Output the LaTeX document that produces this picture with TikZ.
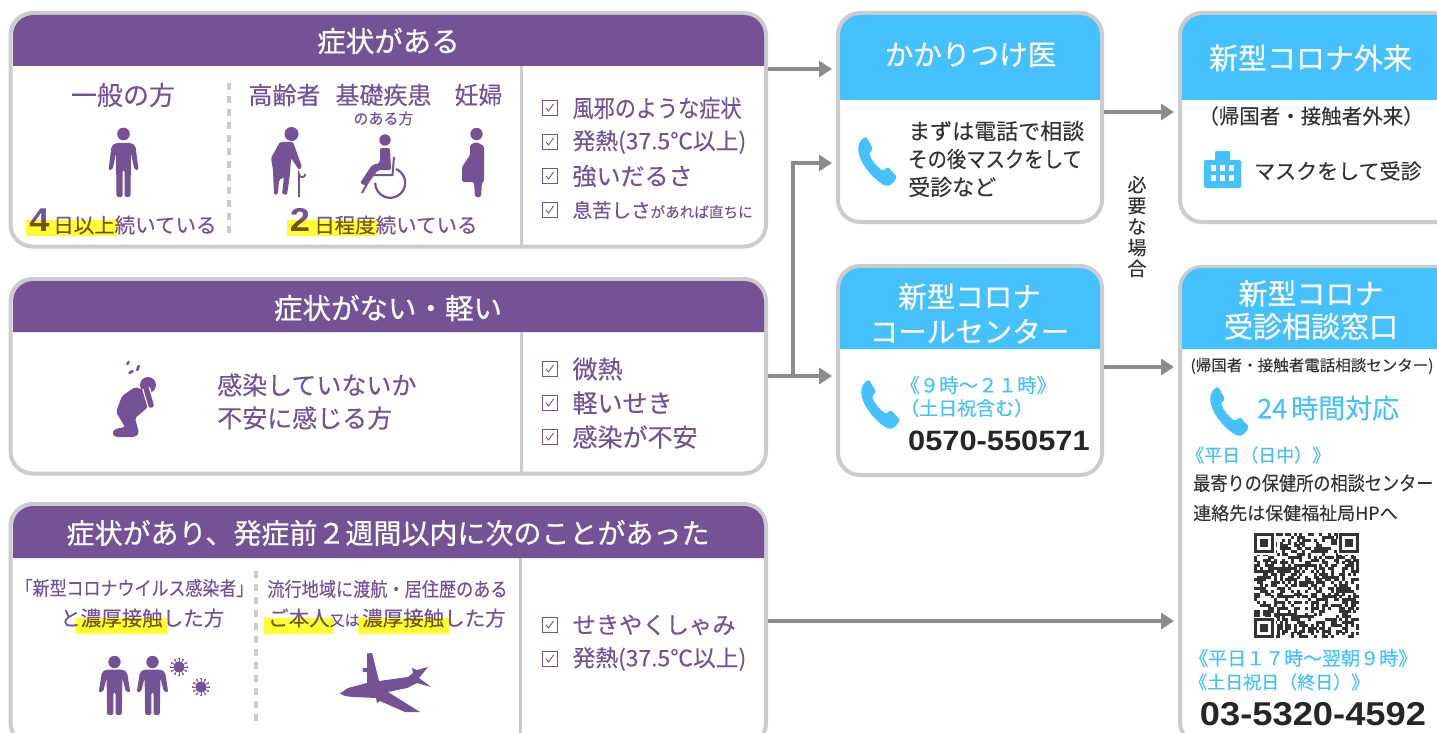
\documentclass[tikz,border=0pt]{standalone}
\usepackage{fontspec}
\usepackage{xcolor}
\setmainfont[FakeBold=0.15]{Noto Sans CJK JP}
\newfontfamily\jphead[FakeBold=0.55]{Noto Sans CJK JP}
\newfontfamily\jpcond[FakeStretch=0.88,FakeBold=0.15]{Noto Sans CJK JP}
\newfontfamily\digitfont[FakeStretch=1.1]{Liberation Sans}
\newcommand{\jpsize}[1]{\fontsize{#1}{#1}\selectfont}
\usetikzlibrary{positioning, arrows.meta}
\definecolor{violethead}{HTML}{745295}
\definecolor{bluehead}{HTML}{45C1FF}
\definecolor{framegrey}{HTML}{CCCCCC}
\definecolor{flowgrey}{HTML}{8C8C8C}
\definecolor{inkgrey}{HTML}{333333}
\definecolor{markyellow}{HTML}{FFFF33}
\tikzset{
    panel/.style = {rectangle, draw = framegrey, line width = 4pt, fill = white, rounded corners = 22pt, inner sep = 0pt},
    headtext/.style = {text = white, inner sep = 0pt, font = \jphead\jpsize{28.5}},
    violet text/.style = {text = violethead, inner sep = 0pt},
    blue text/.style = {text = bluehead, inner sep = 0pt},
    ink text/.style = {text = inkgrey, inner sep = 0pt},
    tickbox/.style = {rectangle, draw = violethead, line width = 0.7pt, minimum size = 15pt, inner sep = 0pt,
        path picture = {\draw [violethead, line width = 0.9pt]
            ([shift = {(-3.5,0)}]path picture bounding box.center)
            -- ([shift = {(-1,3)}]path picture bounding box.center)
            -- ([shift = {(4,-4)}]path picture bounding box.center);}},
    flow/.style = {draw = flowgrey, line width = 4.5pt, -{Triangle[length = 13pt, width = 16pt]}, shorten > = 4pt},
    marker/.style = {fill = markyellow, blend mode = multiply},
    dotted divider/.style = {draw = framegrey, line width = 3.5pt, dash pattern = on 7pt off 6pt},
    solid divider/.style = {draw = framegrey, line width = 3pt},
    person body/.pic = {
        \fill [violethead, rounded corners = 2pt] (-8,9) -- (-12,12) -- (-15,36) -- (-11,36) -- (-7.5,19) -- (-7,63)
            -- (-1,63) -- (-1,36) -- (1,36) -- (1,63) -- (7,63) -- (7.5,19) -- (11,36) -- (15,36) -- (12,12) -- (8,9) -- cycle;
    },
    phone/.pic = {
        \fill [bluehead, rounded corners = 1.5pt] (3,4) -- (8,0.5) -- (15,13) -- (11,17) .. controls (13,24) and (19,31) .. (25,35)
            -- (30,31) -- (39,41) -- (35,47) .. controls (30,51) and (26,50) .. (20,45) .. controls (8,35) and (-2,20) .. (1,8) -- cycle;
    },
    virus/.pic = {
        \fill [violethead] (0,0) circle [radius = 5.5];
        \foreach \spike in {0,30,...,330} {
            \draw [violethead, line width = 0.8pt] (0,0) -- (\spike:8);
            \fill [violethead] (\spike:8.3) circle [radius = 1];
        }
    }
}

\begin{document}
\begin{tikzpicture}[x = 1pt, y = -1pt]
    \clip (0,0) rectangle (1437,733);
    \fill [white] (0,0) rectangle (1437,733);

    % left panels
    \node [panel, minimum width = 755.5pt, minimum height = 233.5pt] (symptoms) at (388.25,129.75) {};
    \fill [violethead] (13,66) [rounded corners = 20pt] -- (13,15) -- (764,15) [sharp corners] -- (764,66) -- cycle;
    \node [headtext] (symptomshead) at (388.5,41) {症状がある};
    \draw [solid divider] (521,66) -- (521,245);
    \draw [dotted divider] (229,83) -- (229,236);

    \node [panel, minimum width = 755.5pt, minimum height = 194.5pt] (mild) at (388.25,376.25) {};
    \fill [violethead] (13,332) [rounded corners = 20pt] -- (13,281) -- (764,281) [sharp corners] -- (764,332) -- cycle;
    \node [headtext] (mildhead) at (388,308) {症状がない・軽い};
    \draw [solid divider] (521,332) -- (521,472);

    \node [panel, minimum width = 755.5pt, minimum height = 241pt] (contact) at (388.25,624.5) {};
    \fill [violethead] (13,558) [rounded corners = 20pt] -- (13,506) -- (764,506) [sharp corners] -- (764,558) -- cycle;
    \node [headtext, font = \jphead\jpsize{28}] (contacthead) at (388,533) {症状があり、発症前２週間以内に次のことがあった};
    \draw [solid divider] (520,558) -- (520,733);
    \draw [dotted divider] (256,571) -- (256,725);

    % first panel texts
    \node [violet text, font = \jpsize{26}] (general) at (123,95) {一般の方};
    \node [violet text, font = \jpsize{24}] (elderly) at (284.5,95) {高齢者};
    \node [violet text, font = \jpsize{24}] (illness) at (383.5,95) {基礎疾患};
    \node [violet text, font = \jpsize{15}, below = 5pt of illness] (illnesssub) {のある方};
    \node [violet text, font = \jpsize{24}] (pregnant) at (478.5,95) {妊婦};
    \node [violet text, font = \digitfont\bfseries\jpsize{33}] (four) at (39.5,220) {4};
    \node [violet text, font = \jpsize{20.5}, anchor = west] (fourdays) at (53,225) {日以上続いている};
    \node [violet text, font = \digitfont\bfseries\jpsize{33}] (two) at (300,220) {2};
    \node [violet text, font = \jpsize{20.5}, anchor = west] (twodays) at (314,225) {日程度続いている};

    % second and third panel texts
    \node [violet text, font = \fontsize{25}{33}\selectfont, align = left, anchor = west] (worry) at (217,401.5) {感染していないか\\不安に感じる方};
    \node [violet text, font = \jpcond\jpsize{19.3}] (infected) at (134.5,588) {「新型コロナウイルス感染者」};
    \node [violet text, font = \jpsize{20.5}, anchor = west] (closeone) at (60,618) {と濃厚接触した方};
    \node [violet text, font = \jpcond\jpsize{19.5}] (travel) at (387.5,589) {流行地域に渡航・居住歴のある};
    \node [violet text, font = \jpsize{20.5}, anchor = west] (selfone) at (268,618) {ご本人\jpsize{15}又は\hspace{2.5pt}\jpsize{20.5}濃厚接触した方};

    % check lists
    \foreach \ypos/\name/\itemtext in {
        108/a1/{\jpcond\jpsize{24}風邪のような症状},
        142/a2/{\jpsize{22.8}発熱(37.5℃以上)},
        176/a3/{\jpsize{24}強いだるさ},
        210/a4/{\jpsize{19.5}息苦しさ\jpsize{14.6}があれば直ちに},
        369/b1/{\jpsize{25}微熱},
        403/b2/{\jpsize{25}軽いせき},
        437/b3/{\jpsize{25}感染が不安},
        625/c1/{\jpsize{23.3}せきやくしゃみ},
        659/c2/{\jpsize{22.8}発熱(37.5℃以上)}
    } {
        \node [tickbox] (tick\name) at (549.5,\ypos) {};
        \node [violet text, right = 15pt of tick\name] (item\name) {\itemtext};
    }

    % doctor and outpatient panels
    \node [panel, minimum width = 264pt, minimum height = 209pt] (doctor) at (970,117.5) {};
    \fill [bluehead] (840,100) [rounded corners = 20pt] -- (840,15) -- (1100,15) [sharp corners] -- (1100,100) -- cycle;
    \node [headtext] (doctorhead) at (970.5,55) {かかりつけ医};
    \node [ink text, font = \fontsize{22}{28}\selectfont, align = left, anchor = west] (doctortext) at (908,159) {まずは電話で相談\\{\jpcond その後マスクをして}\\受診など};
    \pic at (858,136) {phone};

    \node [panel, minimum width = 280pt, minimum height = 209pt] (outpatient) at (1320,117.5) {};
    \fill [bluehead] (1182,100) [rounded corners = 20pt] -- (1182,15) -- (1460,15) [sharp corners] -- (1460,100) -- cycle;
    \node [headtext, font = \jphead\jpsize{29}] (outpatienthead) at (1310.5,58) {新型コロナ外来};
    \node [ink text, font = \jpsize{20.5}] (outpatientsub) at (1311,116) {（帰国者・接触者外来）};
    \node [ink text, font = \jpsize{21}, anchor = west] (masktext) at (1254,171) {マスクをして受診};
    \fill [bluehead, rounded corners = 1.5pt] (1204,160) rectangle (1241,188);
    \fill [bluehead, rounded corners = 1pt] (1215,151) rectangle (1230,162);
    \foreach \col in {1210.5,1219.5,1228.5} {
        \fill [white] (\col,165) rectangle ++(5,6);
        \fill [white] (\col,175) rectangle ++(5,6);
    }

    \node [ink text, font = \fontsize{19}{21}\selectfont, align = center] (ifneeded) at (1137,226.5) {必\\要\\な\\場\\合};

    % call centre
    \node [panel, minimum width = 264pt, minimum height = 209pt] (callcentre) at (970,370.5) {};
    \fill [bluehead] (840,349) [rounded corners = 20pt] -- (840,268) -- (1100,268) [sharp corners] -- (1100,349) -- cycle;
    \node [headtext, align = center, font = \jphead\fontsize{28.5}{35}\selectfont] (callhead) at (969.5,313.5) {新型コロナ\\コールセンター};
    \pic at (861,379) {phone};
    \node [blue text, font = \jpsize{19.5}, anchor = west] (callhours) at (900,385) {《９時～２１時》};
    \node [blue text, font = \jpsize{19}, anchor = west] (calldays) at (900,408) {（土日祝含む）};
    \node [font = \digitfont\bfseries\jpsize{28}, text = black!85, inner sep = 0pt, anchor = west] (callnumber) at (908,441) {0570-550571};

    % consultation desk
    \node [panel, minimum width = 280pt, minimum height = 477pt] (desk) at (1320,505.5) {};
    \fill [bluehead] (1182,349) [rounded corners = 20pt] -- (1182,268) -- (1460,268) [sharp corners] -- (1460,349) -- cycle;
    \node [headtext, align = center, font = \jphead\fontsize{29}{33}\selectfont] (deskhead) at (1311,310) {新型コロナ\\受診相談窓口};
    \node [ink text, font = \jpsize{15.5}] (desksub) at (1312,366) {(帰国者・接触者電話相談センター)};
    \begin{scope}[shift = {(1210,386)}, scale = 0.87]
        \pic at (0,0) {phone};
    \end{scope}
    \node [blue text, font = \jpsize{27}, anchor = west] (allday) at (1257,408) {24\hspace{4pt}時間対応};
    \node [blue text, font = \jpsize{18}, anchor = west] (weekday) at (1186,455) {《平日（日中）》};
    \node [ink text, font = \jpcond\jpsize{19.5}, anchor = west] (nearest) at (1193,483) {最寄りの保健所の相談センター};
    \node [ink text, font = \jpsize{18}, anchor = west] (contactinfo) at (1193,513) {連絡先は保健福祉局HPへ};
    \node [blue text, font = \jpsize{19}, anchor = west] (nighthours) at (1189,658) {《平日１７時～翌朝９時》};
    \node [blue text, font = \jpsize{18}, anchor = west] (holidays) at (1189,682) {《土日祝日（終日）》};
    \node [font = \digitfont\bfseries\jpsize{33}, text = black!85, inner sep = 0pt] (desknumber) at (1313,714) {03-5320-4592};

    % QR code
    \pgfmathsetseed{20}
    \foreach \row in {0,...,36}
        \foreach \col in {0,...,36} {
            \pgfmathrandominteger{\bit}{0}{1}
            \ifnum\bit=1
                \fill [inkgrey] (1254+\col*2.84,533+\row*2.84) rectangle ++(3,3);
            \fi
        }
    \foreach \qx/\qy in {1254/533,1339/533,1254/618} {
        \fill [white] (\qx-1,\qy-1) rectangle ++(23,23);
        \fill [inkgrey] (\qx,\qy) rectangle ++(20,20);
        \fill [white] (\qx+3,\qy+3) rectangle ++(14,14);
        \fill [inkgrey] (\qx+6,\qy+6) rectangle ++(8,8);
    }

    % connectors
    \coordinate (branch) at (793,376);
    \draw [flow] (symptoms.east |- 0,69) -- (doctor.west |- 0,69);
    \draw [flow] (mild.east |- branch) -- (callcentre.west |- branch);
    \draw [flow] (branch) -- (branch |- 0,163) -- (doctor.west |- 0,163);
    \draw [flow] (doctor.east |- 0,112) -- (outpatient.west |- 0,112);
    \draw [flow] (callcentre.east |- 0,367) -- (desk.west |- 0,367);
    \draw [flow] (contact.east |- 0,621) -- (desk.west |- 0,621);

    % icons
    \fill [violethead] (123.5,134) circle [radius = 6.3];
    \pic at (123.5,134) {person body};

    \fill [violethead] (291.5,134) circle [radius = 7];
    \fill [violethead, rounded corners = 1.5pt] (280,142) -- (293,142) -- (302,167) -- (299,170) -- (291,158) -- (290,174)
        -- (287,195) -- (282,194) -- (284,177) -- (279,180) -- (278,194) -- (274,195) -- (273,170) -- (271,158) -- cycle;
    \draw [violethead, line width = 1.8pt] (299,197) -- (299,174) arc [start angle = 180, end angle = 0, radius = 3.2];

    \fill [violethead] (385,140) circle [radius = 5.7];
    \fill [violethead, rounded corners = 2pt] (380,148) -- (390,148) -- (391,170) -- (378,170) -- (366,186) -- (360,183) -- (372,165) -- (380,163) -- cycle;
    \draw [violethead, line width = 2pt] (394,157) -- (392.5,175) -- (372,175) -- (362,193);
    \draw [violethead, line width = 2.2pt] (396,169) arc [start angle = -67, end angle = 180, radius = 15];

    \fill [violethead] (476.5,134) circle [radius = 6.2];
    \fill [violethead, rounded corners = 1.5pt] (470,145) -- (476,142) -- (484,146) -- (484,182) -- (482,182) -- (481,197) -- (475,197) -- (474,182)
        -- (462,182) -- (462,167) -- (470,155) -- cycle;

    \fill [violethead] (148,385) circle [radius = 8];
    \fill [violethead, rounded corners = 2pt] (112,433) -- (115,429) -- (125,427) -- (116,412) -- (122,396) -- (135,387) -- (144,390)
        -- (148,407) -- (140,414) -- (135,418) -- (139,433) -- (135,437) -- (115,437) -- cycle;
    \draw [violethead, line width = 5.5pt, line cap = round, preaction = {draw = white, line width = 8pt}] (146,388) -- (151,405);
    \fill [violethead, rotate around = {-30:(128,363)}] (128,363) ellipse [x radius = 1.3, y radius = 2.6];
    \fill [violethead, rotate around = {-60:(131,372)}] (131,372) ellipse [x radius = 1.5, y radius = 3];
    \fill [violethead, rotate around = {-20:(138,368)}] (138,368) ellipse [x radius = 1.5, y radius = 3.5];

    \foreach \xpos in {114.5,152.5} {
        \fill [violethead] (\xpos,662) circle [radius = 6.2];
        \pic [xscale = 1.05, yscale = 0.84] at (\xpos,662) {person body};
    }
    \pic at (179,667) {virus};
    \pic at (201,687) {virus};

    \fill [violethead] (340,693.5) -- (348,688) -- (367,683) -- (367,672) -- (363,672) -- (362.5,668) -- (367,668) -- (367,653.5) -- (372,653)
        -- (379,681) -- (408,677) -- (413,673) -- (412,668) -- (417,670) -- (428,667) -- (419,678) -- (431,687) -- (417,683) -- (407,688) -- (388,692)
        -- (420,712) -- (405,712) -- (380,701) -- (377,703) -- (376,698) -- (353,697) -- (345,696) -- cycle;

    % yellow markers
    \fill [marker] (26,220) rectangle (117,236);
    \fill [marker] (287,220) rectangle (377,236);
    \fill [marker] (76,618) rectangle (167,634);
    \fill [marker] (264,618) rectangle (333,634);
    \fill [marker] (358,618) rectangle (449,634);
\end{tikzpicture}
\end{document}
